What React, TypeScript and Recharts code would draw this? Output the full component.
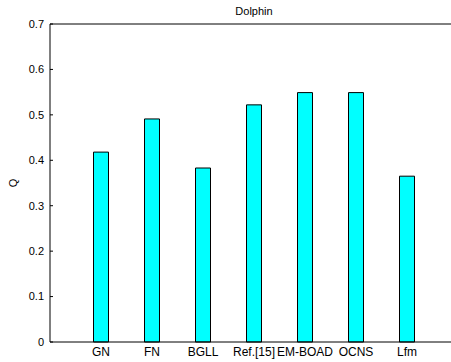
import React from "react";
import { BarChart, Bar, XAxis, YAxis } from "recharts";

// community detection methods and their modularity Q on the Dolphin network
const methods = ["GN", "FN", "BGLL", "Ref.[15]", "EM-BOAD", "OCNS", "Lfm"];
const modularity = [0.418, 0.491, 0.383, 0.522, 0.549, 0.549, 0.365];
const qTicks = [0, 0.1, 0.2, 0.3, 0.4, 0.5, 0.6, 0.7];

const data = methods.map((name, i) => ({ name, q: modularity[i] }));

const font = "'Liberation Sans', Arial, Helvetica, sans-serif";

const App = () => {
  return (
    <div style={{ position: "fixed", left: 0, top: 0, width: 451, height: 362, overflow: "hidden", background: "#fff" }}>
      <BarChart
        width={470}
        height={362}
        data={data}
        margin={{ top: 23, right: 12, bottom: 0, left: 0 }}
        style={{ fontFamily: font }}
      >
        <XAxis
          dataKey="name"
          xAxisId="bottom"
          height={20}
          padding={{ left: 25.5, right: 25.5 }}
          axisLine={{ stroke: "#000", strokeWidth: 1 }}
          tickLine={false}
          tickSize={0}
          tickMargin={5}
          interval={0}
          tick={{ fontSize: 12, fill: "#000" }}
        />
        <XAxis
          dataKey="name"
          xAxisId="top"
          orientation="top"
          height={1}
          padding={{ left: 25.5, right: 25.5 }}
          axisLine={{ stroke: "#000", strokeWidth: 1 }}
          tickLine={{ stroke: "#000" }}
          tickSize={-3}
          tick={false}
          interval={0}
          label={{
            content: () => (
              <text x={254} y={15} textAnchor="middle" fontSize={11} fill="#000" fontFamily={font}>
                Dolphin
              </text>
            ),
          }}
        />
        <YAxis
          width={50}
          domain={[0, 0.7]}
          ticks={qTicks}
          interval={0}
          axisLine={{ stroke: "#000", strokeWidth: 1 }}
          tickLine={{ stroke: "#000" }}
          tickSize={-3}
          tickMargin={9}
          tick={{ fontSize: 11, fill: "#000" }}
          tickFormatter={(v) => `${v}`}
          label={{
            content: () => (
              <text x={17} y={183} transform="rotate(-90 17 183)" textAnchor="middle" fontSize={11} fill="#000" fontFamily={font}>
                Q
              </text>
            ),
          }}
        />
        <Bar dataKey="q" xAxisId="bottom" fill="#00ffff" stroke="#000" strokeWidth={1} barSize={15} isAnimationActive={false} />
      </BarChart>
    </div>
  );
};

export default App;
